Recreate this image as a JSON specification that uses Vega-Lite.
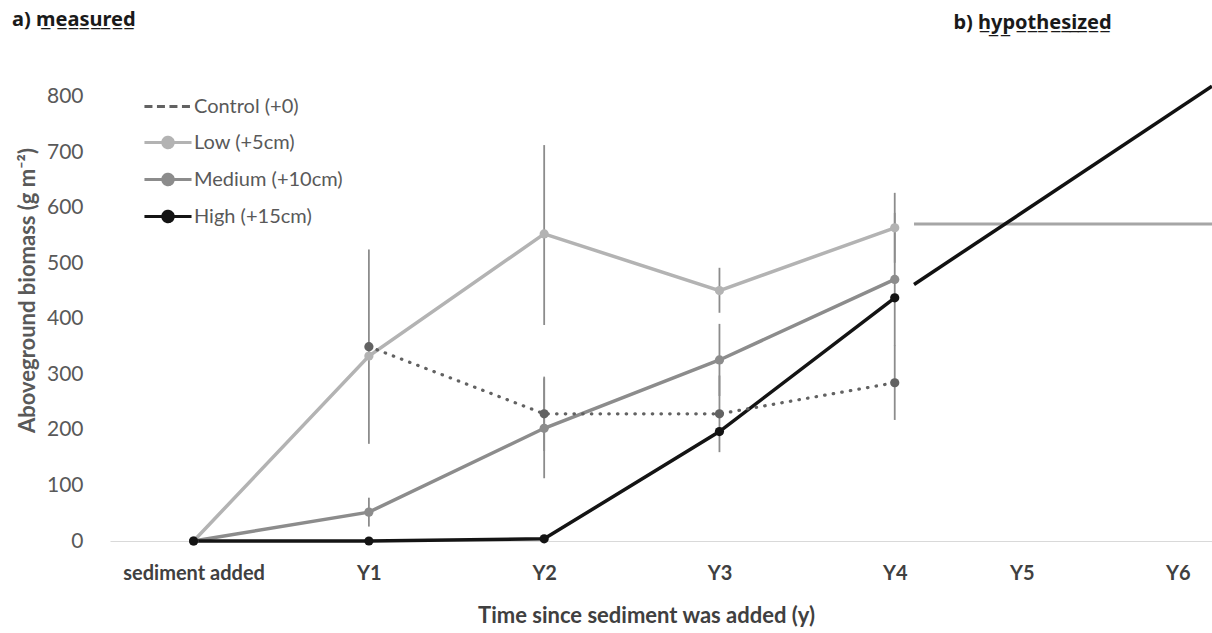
{
  "$schema": "https://vega.github.io/schema/vega-lite/v6.json",
  "width": 1102,
  "height": 472,
  "autosize": {"type": "none"},
  "padding": {"left": 110, "top": 69, "right": 0, "bottom": 92},
  "background": "white",
  "config": {"view": {"stroke": null}, "font": "Lato"},
  "title": {
    "text": "a) m̲e̲a̲s̲u̲r̲e̲d̲",
    "anchor": "start",
    "frame": "group",
    "dx": -98,
    "offset": -28,
    "baseline": "middle",
    "font": "Noto Sans",
    "fontSize": 20,
    "fontWeight": "bold",
    "color": "#1a1a1a"
  },
  "datasets": {
    "main": [
      {"series": "Low (+5cm)", "t": 0, "v": 0, "lo": null, "hi": null},
      {"series": "Low (+5cm)", "t": 1, "v": 333, "lo": null, "hi": null},
      {"series": "Low (+5cm)", "t": 2, "v": 553, "lo": 389, "hi": 713},
      {"series": "Low (+5cm)", "t": 3, "v": 451, "lo": 411, "hi": 492},
      {"series": "Low (+5cm)", "t": 4, "v": 564, "lo": 501, "hi": 627},
      {"series": "Medium (+10cm)", "t": 0, "v": 0, "lo": null, "hi": null},
      {"series": "Medium (+10cm)", "t": 1, "v": 52, "lo": 26, "hi": 78},
      {"series": "Medium (+10cm)", "t": 2, "v": 203, "lo": 113, "hi": 293},
      {"series": "Medium (+10cm)", "t": 3, "v": 326, "lo": 261, "hi": 391},
      {"series": "Medium (+10cm)", "t": 4, "v": 471, "lo": 351, "hi": 591},
      {"series": "Control (+0)", "t": 1, "v": 350, "lo": 175, "hi": 525},
      {"series": "Control (+0)", "t": 2, "v": 229, "lo": 162, "hi": 296},
      {"series": "Control (+0)", "t": 3, "v": 229, "lo": 160, "hi": 298},
      {"series": "Control (+0)", "t": 4, "v": 285, "lo": 218, "hi": 352},
      {"series": "High (+15cm)", "t": 0, "v": 0, "lo": null, "hi": null},
      {"series": "High (+15cm)", "t": 1, "v": 0, "lo": null, "hi": null},
      {"series": "High (+15cm)", "t": 2, "v": 4, "lo": null, "hi": null},
      {"series": "High (+15cm)", "t": 3, "v": 197, "lo": null, "hi": null},
      {"series": "High (+15cm)", "t": 4, "v": 438, "lo": null, "hi": null}
    ],
    "hyp": [
      {"series": "Low (+5cm)", "t": 4.11, "v": 571},
      {"series": "Low (+5cm)", "t": 5.81, "v": 571},
      {"series": "High (+15cm)", "t": 4.11, "v": 462},
      {"series": "High (+15cm)", "t": 5.81, "v": 819}
    ]
  },
  "resolve": {"axis": {"x": "independent"}},
  "layer": [
    {
      "data": {"name": "main"},
      "transform": [{"filter": "datum.lo != null"}],
      "mark": {"type": "rule", "color": "#8c8c8c", "strokeWidth": 1.8},
      "encoding": {
        "x": {
          "field": "t", "type": "quantitative",
          "scale": {"domain": [-0.477, 5.81], "nice": false, "zero": false},
          "axis": {
            "values": [0, 1, 2, 3, 4, 4.725, 5.615],
            "labelExpr": "datum.value < 0.5 ? 'sediment added' : datum.value < 4.5 ? 'Y' + round(datum.value) : datum.value < 5 ? 'Y5' : 'Y6'",
            "ticks": false, "grid": false,
            "domainColor": "#d9d9d9", "domainWidth": 1,
            "labelFont": "Lato", "labelFontSize": 20, "labelFontWeight": "bold",
            "labelColor": "#404040", "labelPadding": 22,
            "labelOverlap": false, "labelFlush": false,
            "title": "Time since sediment was added (y)",
            "titleFont": "Lato", "titleFontSize": 22, "titleFontWeight": "bold",
            "titleColor": "#404040", "titlePadding": 22,
            "titleX": 536, "titleAlign": "center"
          }
        },
        "y": {
          "field": "lo", "type": "quantitative",
          "scale": {"domain": [0, 850], "nice": false, "zero": true},
          "axis": {
            "values": [0, 100, 200, 300, 400, 500, 600, 700, 800],
            "ticks": false, "grid": false, "domain": false,
            "labelFont": "Lato", "labelFontSize": 21, "labelColor": "#595959",
            "labelPadding": 27,
            "title": "Aboveground biomass (g m⁻²)",
            "titleFont": "Lato", "titleFontSize": 22, "titleFontWeight": "bold",
            "titleColor": "#595959",
            "titleX": -83, "titleY": 221, "titleBaseline": "middle", "titleAlign": "center", "titleAngle": -90
          }
        },
        "y2": {"field": "hi"}
      }
    },
    {
      "data": {"name": "hyp"},
      "transform": [{"filter": "datum.series === 'Low (+5cm)'"}],
      "mark": {"type": "line", "color": "#a6a6a6", "strokeWidth": 3},
      "encoding": {
        "x": {
          "field": "t", "type": "quantitative",
          "axis": {
            "orient": "top", "labels": false, "ticks": false, "domain": false, "grid": false,
            "title": "b) h̲y̲p̲o̲t̲h̲e̲s̲i̲z̲e̲d̲",
            "titleX": 922, "titleY": -47, "titleBaseline": "middle", "titleAlign": "center", "titleAngle": 0,
            "titleFont": "Noto Sans", "titleFontSize": 20, "titleFontWeight": "bold", "titleColor": "#1a1a1a"
          }
        },
        "y": {"field": "v", "type": "quantitative"}
      }
    },
    {
      "data": {"name": "hyp"},
      "transform": [{"filter": "datum.series === 'High (+15cm)'"}],
      "mark": {"type": "line", "color": "#111111", "strokeWidth": 3.5},
      "encoding": {
        "x": {"field": "t", "type": "quantitative", "axis": null},
        "y": {"field": "v", "type": "quantitative"}
      }
    },
    {
      "data": {"name": "main"},
      "transform": [{"filter": "datum.series !== 'Control (+0)'"}],
      "mark": {"type": "line", "strokeWidth": 3.5},
      "encoding": {
        "x": {"field": "t", "type": "quantitative", "axis": null},
        "y": {"field": "v", "type": "quantitative"},
        "color": {
          "field": "series", "type": "nominal",
          "scale": {
            "domain": ["Control (+0)", "Low (+5cm)", "Medium (+10cm)", "High (+15cm)"],
            "range": ["#626262", "#b3b3b3", "#8c8c8c", "#141414"]
          },
          "legend": {
            "orient": "none", "legendX": 41.5, "legendY": 21,
            "title": null, "padding": 0,
            "symbolType": "M-1.57,0H1.57M0.35,0A0.35,0.35 0 1 1 -0.35,0A0.35,0.35 0 1 1 0.35,0Z",
            "symbolSize": 900, "symbolStrokeWidth": 3,
            "labelOffset": 9.5, "rowPadding": 9,
            "labelFont": "Lato", "labelFontSize": 20, "labelColor": "#595959",
            "encode": {
              "symbols": {
                "update": {
                  "shape": {"signal": "datum.value === 'Control (+0)' ? 'M-1.57,0H1.57' : 'M-1.57,0H1.57M0.35,0A0.35,0.35 0 1 1 -0.35,0A0.35,0.35 0 1 1 0.35,0Z'"},
                  "strokeDash": {"signal": "datum.value === 'Control (+0)' ? [8, 4.5] : [1, 0]"},
                  "stroke": {"scale": "color", "field": "value"},
                  "fill": {"scale": "color", "field": "value"},
                  "size": {"value": 900},
                  "strokeWidth": {"value": 3},
                  "opacity": {"value": 1},
                  "fillOpacity": {"value": 1},
                  "strokeOpacity": {"value": 1}
                }
              }
            }
          }
        }
      }
    },
    {
      "data": {"name": "main"},
      "transform": [{"filter": "datum.series === 'Control (+0)'"}],
      "mark": {"type": "line", "strokeWidth": 3.2, "strokeDash": [0.5, 8.2], "strokeCap": "round"},
      "encoding": {
        "x": {"field": "t", "type": "quantitative", "axis": null},
        "y": {"field": "v", "type": "quantitative"},
        "color": {"field": "series", "type": "nominal"}
      }
    },
    {
      "data": {"name": "main"},
      "mark": {"type": "point", "filled": true, "size": 85, "opacity": 1},
      "encoding": {
        "x": {"field": "t", "type": "quantitative", "axis": null},
        "y": {"field": "v", "type": "quantitative"},
        "color": {"field": "series", "type": "nominal"}
      }
    }
  ]
}
